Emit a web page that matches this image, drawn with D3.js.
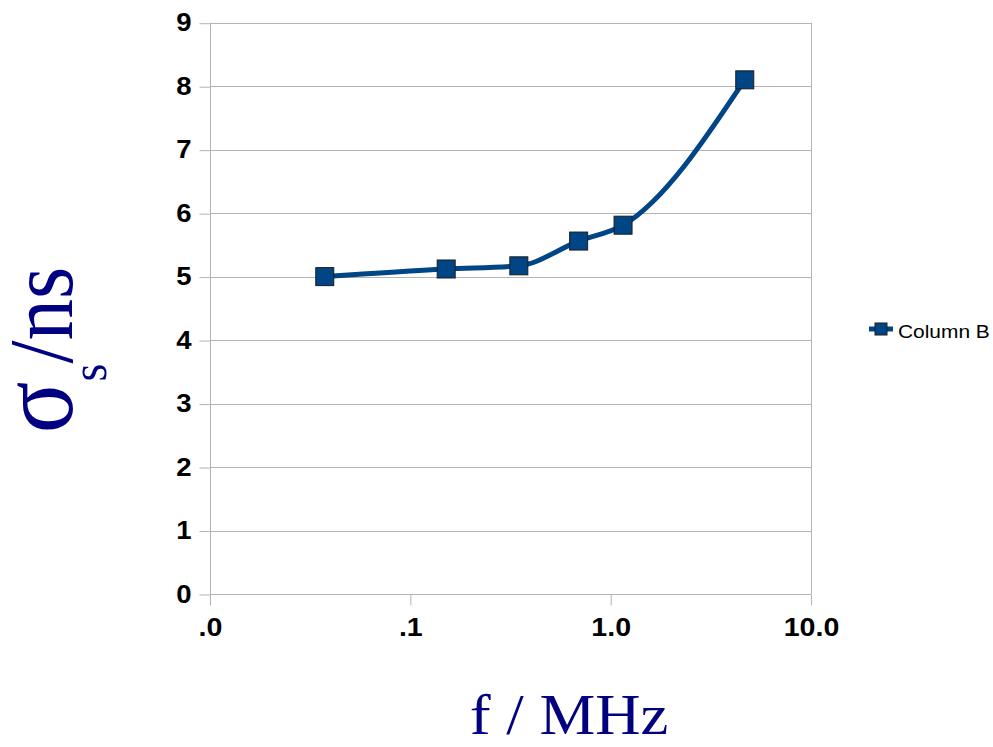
<!DOCTYPE html>
<html>
<head>
<meta charset="utf-8">
<script src="https://cdn.jsdelivr.net/npm/d3@7"></script>
<style>
  html, body { margin: 0; padding: 0; background: #fff; }
  svg { display: block; }
</style>
</head>
<body>
<svg id="chart" width="993" height="747"></svg>
<script>
// Measured standard deviation versus frequency
const freqMHz = [0.0374, 0.151, 0.348, 0.692, 1.153, 4.67];
const sigmaNs = [5.0, 5.12, 5.17, 5.56, 5.81, 8.10];
const xTicks = [0.01, 0.1, 1, 10];
const xTickLabels = [".0", ".1", "1.0", "10.0"];
const yTicks = [0, 1, 2, 3, 4, 5, 6, 7, 8, 9];
const seriesName = "Column B";

const svg = d3.select("#chart");
const plot = { left: 210, right: 811, top: 22.7, bottom: 594 };
const gridColor = "#b3b3b3";
const seriesColor = "#004586";
const sansFont = "'Liberation Sans', Arial, sans-serif";
const serifFont = "'Liberation Serif', 'Times New Roman', serif";
const WIDEN = 1.1; // text is drawn slightly wider than the font's natural width

// widen a text element horizontally, keeping its anchor x fixed
function widen(sel) {
  sel.each(function () {
    const t = d3.select(this);
    const x0 = +t.attr("x") || 0;
    t.attr("transform", `translate(${x0 * (1 - WIDEN)},0) scale(${WIDEN},1)`);
  });
}

const x = d3.scaleLog().domain([0.01, 10]).range([plot.left, plot.right]);
const y = d3.scaleLinear().domain([0, 9]).range([plot.bottom, plot.top]);

// horizontal grid lines
svg.append("g")
  .selectAll("line")
  .data(yTicks)
  .join("line")
  .attr("x1", plot.left).attr("x2", plot.right)
  .attr("y1", d => Math.round(y(d)) + 0.5).attr("y2", d => Math.round(y(d)) + 0.5)
  .attr("stroke", gridColor).attr("stroke-width", 1);

// right border of the plot area
svg.append("line")
  .attr("x1", plot.right + 0.5).attr("x2", plot.right + 0.5)
  .attr("y1", plot.top).attr("y2", plot.bottom)
  .attr("stroke", gridColor);

// y axis
const yAxis = svg.append("g")
  .attr("transform", `translate(${plot.left + 0.5},0)`)
  .call(d3.axisLeft(y).tickValues(yTicks).tickSize(11).tickPadding(8).tickFormat(d3.format("d")));
yAxis.select(".domain").attr("stroke", gridColor).attr("d", `M0,${plot.top}V${plot.bottom}`);
yAxis.selectAll(".tick line").attr("stroke", gridColor).attr("transform", "translate(0,0.5)");
yAxis.selectAll(".tick text")
  .attr("font-family", sansFont)
  .attr("font-weight", "bold").attr("font-size", 25).attr("fill", "#000")
  .call(widen);

// x axis
const xAxis = svg.append("g")
  .attr("transform", `translate(0,${Math.round(plot.bottom) + 0.5})`)
  .call(d3.axisBottom(x).tickValues(xTicks).tickSize(11).tickPadding(12)
    .tickFormat((d, i) => xTickLabels[i]));
xAxis.select(".domain").attr("stroke", gridColor).attr("d", `M${plot.left},0H${plot.right}`);
xAxis.selectAll(".tick line").attr("stroke", gridColor);
xAxis.selectAll(".tick text")
  .attr("font-family", sansFont)
  .attr("font-weight", "bold").attr("font-size", 26).attr("fill", "#000")
  .call(widen);

// data series, smoothed
const pts = freqMHz.map((f, i) => [f, sigmaNs[i]]);
const line = d3.line().x(d => x(d[0])).y(d => y(d[1])).curve(d3.curveMonotoneX);
svg.append("path")
  .datum(pts)
  .attr("d", line)
  .attr("fill", "none")
  .attr("stroke", seriesColor)
  .attr("stroke-width", 5)
  .attr("stroke-linejoin", "round");

const ms = 18;
svg.append("g")
  .selectAll("rect")
  .data(pts)
  .join("rect")
  .attr("x", d => x(d[0]) - ms / 2)
  .attr("y", d => y(d[1]) - ms / 2)
  .attr("width", ms).attr("height", ms)
  .attr("fill", seriesColor)
  .attr("stroke", "#1c1c1c").attr("stroke-width", 1);

// legend
const lg = svg.append("g").attr("transform", "translate(869,329)");
lg.append("line").attr("x1", 0).attr("x2", 24).attr("y1", 0).attr("y2", 0)
  .attr("stroke", seriesColor).attr("stroke-width", 5);
lg.append("rect").attr("x", 6).attr("y", -6).attr("width", 12).attr("height", 12)
  .attr("fill", seriesColor).attr("stroke", "#1c1c1c").attr("stroke-width", 1);
lg.append("text").attr("x", 29).attr("y", 9)
  .attr("font-family", sansFont)
  .attr("font-size", 19).attr("fill", "#000")
  .text(seriesName)
  .call(widen);

// axis titles
const yTitle = svg.append("text")
  .attr("transform", `translate(72,350) scale(${WIDEN},1) rotate(-90)`)
  .attr("text-anchor", "middle")
  .attr("font-family", serifFont)
  .attr("fill", "#000080");
yTitle.append("tspan").attr("font-size", 96).text("σ");
yTitle.append("tspan").attr("font-size", 46).attr("dy", 31).text("s");
yTitle.append("tspan").attr("font-size", 83).attr("dy", -31).text("/ns");

svg.append("text")
  .attr("x", 569).attr("y", 734)
  .attr("text-anchor", "middle")
  .attr("font-family", serifFont)
  .attr("font-size", 57)
  .attr("fill", "#000080")
  .text("f / MHz")
  .call(widen);
</script>
</body>
</html>
